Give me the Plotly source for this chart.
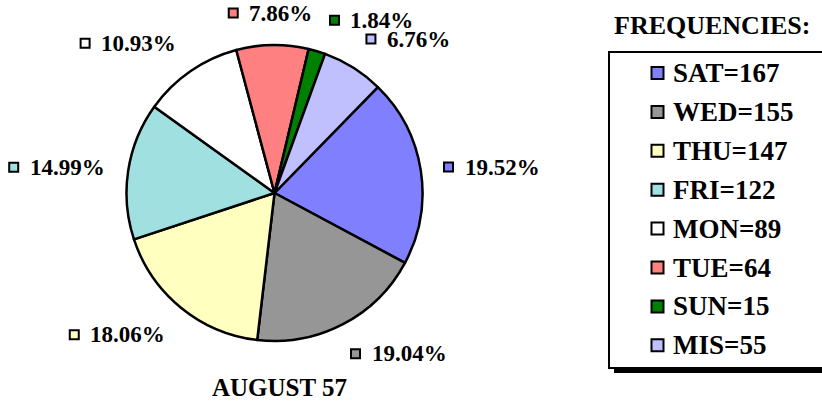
import math
import plotly.graph_objects as go

# ---- data ----
days = ["SAT", "WED", "THU", "FRI", "MON", "TUE", "SUN", "MIS"]
freqs = [167, 155, 147, 122, 89, 64, 15, 55]
pct_labels = ["19.52%", "19.04%", "18.06%", "14.99%", "10.93%", "7.86%", "1.84%", "6.76%"]
colors = ["#8080FF", "#969696", "#FFFFC0", "#A0E0E0", "#FFFFFF", "#FF8080", "#008000", "#C0C0FF"]
legend_title = "FREQUENCIES:"
chart_title = "AUGUST 57"

# ---- layout constants ----
W, H = 822, 402
CX, CY, R = 274.5, 193.0, 148.0
START = 44.3
RL = 170.0
FONT = "Liberation Serif, Times New Roman, serif"
LBL_SIZE = 23
LEG_SIZE = 27

fig = go.Figure()
fig.add_trace(go.Pie(
    values=freqs, labels=days, sort=False, direction="clockwise", rotation=START,
    marker=dict(colors=colors, line=dict(color="black", width=2.5)),
    textinfo="none", hoverinfo="label+value", showlegend=False,
    domain=dict(x=[(CX - R) / W, (CX + R) / W], y=[(H - CY - R) / H, (H - CY + R) / H]),
))

em = {".": 0.25, "%": 1.0}


def text_w(s, size):
    return sum(em.get(ch, 0.5) for ch in s) * size


def clip(v, lo, hi):
    return max(lo, min(hi, v))


# ---- percentage labels placed from slice mid-angles ----
total = sum(freqs)
acc = 0
boxes = []
TOL = 4
for i, v in enumerate(freqs):
    mid = START + (acc + v / 2) / total * 360
    acc += v
    t = math.radians(mid)
    s, c = math.sin(t), math.cos(t)
    ax = CX + RL * s
    ay = CY - RL * c
    w = 24 + text_w(pct_labels[i], LBL_SIZE)
    h = 20
    sx = clip(s / 0.5, -1, 1)
    sy = math.copysign(clip((abs(c) - 0.15) / 0.35, 0, 1), c)
    left = ax - w * (1 - sx) / 2
    top = ay - h * (1 + sy) / 2
    for (l2, t2, w2, h2) in boxes:
        if (left < l2 + w2 and left + w > l2 and
                top < t2 + h2 - TOL and top + h - TOL > t2):
            if s >= 0:
                left = l2 + w2 + 14
            else:
                left = l2 - w - 14
    boxes.append((left, top, w, h))

lbl_x = [b[0] + 6 for b in boxes]
lbl_y = [b[1] + b[3] / 2 for b in boxes]
fig.add_trace(go.Scatter(
    x=lbl_x, y=lbl_y, mode="markers", hoverinfo="skip", showlegend=False,
    marker=dict(symbol="square", size=9, color=colors, line=dict(color="black", width=2)),
))
for i, b in enumerate(boxes):
    fig.add_annotation(x=b[0] + 20, y=b[1] + b[3] / 2, xref="x", yref="y",
                       text="<b>%s</b>" % pct_labels[i], showarrow=False,
                       xanchor="left", yanchor="middle",
                       font=dict(family=FONT, size=LBL_SIZE, color="black"))

# ---- legend (manual) ----
LX0, LY0, LX1, LY1 = 609, 52, 840, 368
fig.add_shape(type="rect", xref="x", yref="y", x0=LX0 + 5, y0=LY0 + 5, x1=LX1 + 5, y1=LY1 + 5,
              fillcolor="black", line=dict(width=0), layer="below")
fig.add_shape(type="rect", xref="x", yref="y", x0=LX0, y0=LY0, x1=LX1, y1=LY1,
              fillcolor="white", line=dict(color="black", width=2), layer="below")
row_y = [73 + 38.9 * i for i in range(len(days))]
fig.add_trace(go.Scatter(
    x=[657.5] * len(days), y=row_y, mode="markers", hoverinfo="skip", showlegend=False,
    marker=dict(symbol="square", size=12, color=colors, line=dict(color="black", width=2)),
))
for d, f, yy in zip(days, freqs, row_y):
    fig.add_annotation(x=671, y=yy, xref="x", yref="y", text="<b>%s=%d</b>" % (d, f),
                       showarrow=False, xanchor="left", yanchor="middle",
                       font=dict(family=FONT, size=LEG_SIZE, color="black"))

fig.add_annotation(x=712, y=25, xref="x", yref="y", text="<b>%s</b>" % legend_title,
                   showarrow=False, xanchor="center", yanchor="middle",
                   font=dict(family=FONT, size=26, color="black"))
fig.add_annotation(x=279, y=387, xref="x", yref="y", text="<b>%s</b>" % chart_title,
                   showarrow=False, xanchor="center", yanchor="middle",
                   font=dict(family=FONT, size=25, color="black"))

fig.update_layout(
    width=W, height=H, margin=dict(l=0, r=0, t=0, b=0),
    paper_bgcolor="white", plot_bgcolor="rgba(0,0,0,0)",
    xaxis=dict(range=[0, W], visible=False, fixedrange=True, domain=[0, 1]),
    yaxis=dict(range=[H, 0], visible=False, fixedrange=True, domain=[0, 1]),
    showlegend=False,
)
fig.write_html("out.html", config={"displayModeBar": False},
               post_script="document.body.style.margin='0px';document.body.style.overflow='hidden';")
